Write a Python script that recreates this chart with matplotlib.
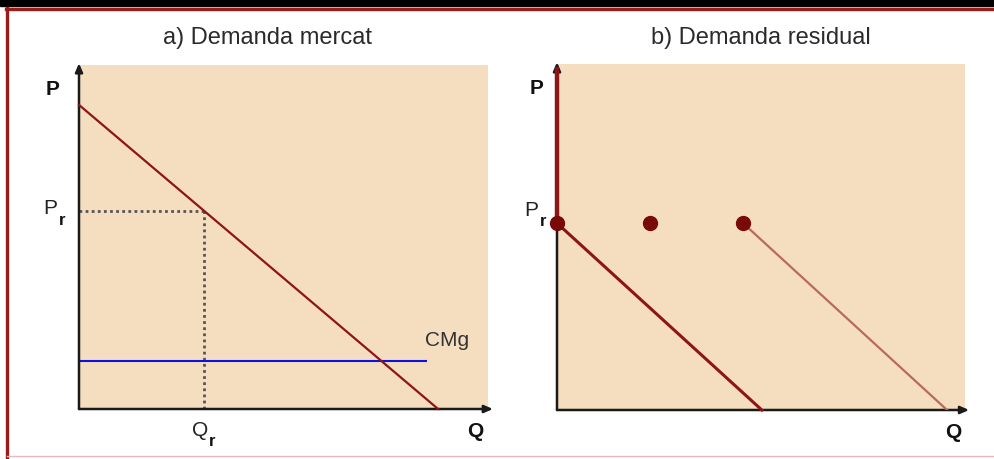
import matplotlib
matplotlib.use("Agg")
import matplotlib.pyplot as plt
from matplotlib.lines import Line2D
from matplotlib.patches import Rectangle

plt.rcParams['font.family'] = ['Liberation Sans', 'DejaVu Sans']

# ---- data (abstract units, axes span 0..10) ----
titles = ["a) Demanda mercat", "b) Demanda residual"]
# panel a
demand_a_q = [0.0, 8.78]
demand_a_p = [8.84, 0.0]
pr_a = 5.77
qr_a = 3.05
cmg_q = [0.0, 8.49]
cmg_p = [1.39, 1.39]
# panel b
pr_b = 5.40
vert_b_top = 9.91
dots_q = [0.0, 2.28, 4.56]
resid1_q = [0.0, 5.02]
resid1_p = [pr_b, 0.0]
resid2_q = [4.56, 9.56]
resid2_p = [pr_b, 0.0]

W, H = 994, 459
fig = plt.figure(figsize=(W / 100, H / 100), dpi=100)
fig.patch.set_facecolor("white")

bg = "#F4DEBF"
dred = "#8E1515"
axcol = "#1a1a1a"
txtcol = "#222222"

def add_ax(x0, y0, x1, y1):
    ax = fig.add_axes([x0 / W, 1 - y1 / H, (x1 - x0) / W, (y1 - y0) / H])
    ax.set_xlim(0, 10)
    ax.set_ylim(0, 10)
    ax.set_facecolor(bg)
    for s in ax.spines.values():
        s.set_visible(False)
    ax.set_xticks([])
    ax.set_yticks([])
    return ax

def draw_axes(ax, xtip, ytip):
    for tip in [(xtip, 0), (0, ytip)]:
        ax.annotate("", xy=tip, xytext=(0, 0),
                    arrowprops=dict(arrowstyle="-|>,head_length=0.5,head_width=0.22",
                                    color=axcol, lw=1.8, shrinkA=0, shrinkB=0),
                    annotation_clip=False, zorder=3)

# ---- panel a ----
axa = add_ax(79, 65, 488, 409)
axa.plot([0, qr_a], [pr_a, pr_a], color="#555555", lw=2.0, ls=(0, (1, 1.2)), zorder=2)
axa.plot([qr_a, qr_a], [0, pr_a], color="#555555", lw=2.0, ls=(0, (1, 1.2)), zorder=2)
axa.plot(cmg_q, cmg_p, color="#1010e0", lw=1.5, zorder=3)
axa.plot(demand_a_q, demand_a_p, color=dred, lw=1.6, zorder=4, clip_on=False)
draw_axes(axa, 10.12, 10.05)
axa.text(-0.65, 9.3, "P", ha="center", va="center", fontsize=15, fontweight="bold", color="#111111")
axa.text(-0.7, pr_a + 0.05, "P", ha="center", va="center", fontsize=15, color=txtcol)
axa.text(-0.42, pr_a - 0.3, "r", ha="center", va="center", fontsize=12, fontweight="bold", color="#111111")
axa.text(qr_a - 0.1, -0.63, "Q", ha="center", va="center", fontsize=15, color=txtcol)
axa.text(qr_a + 0.2, -0.95, "r", ha="center", va="center", fontsize=12, fontweight="bold", color="#111111")
axa.text(9.7, -0.65, "Q", ha="center", va="center", fontsize=15, fontweight="bold", color="#111111")
axa.text(9.0, 1.98, "CMg", ha="center", va="center", fontsize=15, color="#333333")
axa.text(4.6, 10.0 + 0.78, titles[0], ha="center", va="center", fontsize=17, color="#2a2a2a")

# ---- panel b ----
axb = add_ax(557, 64, 965, 410)
draw_axes(axb, 10.1, 10.05)
axb.plot([0, 0], [pr_b, vert_b_top], color=dred, lw=3.2, zorder=5, solid_capstyle="butt", clip_on=False)
axb.plot(resid1_q, resid1_p, color=dred, lw=2.2, zorder=4, clip_on=False)
axb.plot(resid2_q, resid2_p, color="#B86A5E", lw=1.6, zorder=4)
axb.plot(dots_q, [pr_b] * len(dots_q), "o", color="#7A0A0A", ms=10, zorder=6, clip_on=False)
axb.text(-0.5, 9.3, "P", ha="center", va="center", fontsize=15, fontweight="bold", color="#111111")
axb.text(-0.62, pr_b + 0.36, "P", ha="center", va="center", fontsize=15, color=txtcol)
axb.text(-0.35, pr_b + 0.06, "r", ha="center", va="center", fontsize=12, fontweight="bold", color="#111111")
axb.text(9.7, -0.65, "Q", ha="center", va="center", fontsize=15, fontweight="bold", color="#111111")
axb.text(5.0, 10.0 + 0.74, titles[1], ha="center", va="center", fontsize=17, color="#2a2a2a")

# ---- frame decorations ----
fig.add_artist(Rectangle((0, 1 - 6 / H), 1, 6 / H, transform=fig.transFigure,
                         color="black", zorder=10))
fig.add_artist(Line2D([6 / W, 1], [1 - 9 / H, 1 - 9 / H], transform=fig.transFigure,
                      color="#9B1B1B", lw=2.4, zorder=10))
fig.add_artist(Line2D([7 / W, 7 / W], [1 - 8 / H, 0], transform=fig.transFigure,
                      color="#9B1B1B", lw=2.4, zorder=10))
fig.add_artist(Line2D([7 / W, 1], [3 / H, 3 / H], transform=fig.transFigure,
                      color="#E8B8B8", lw=1.0, zorder=10))

fig.savefig("out.png", dpi=100)
